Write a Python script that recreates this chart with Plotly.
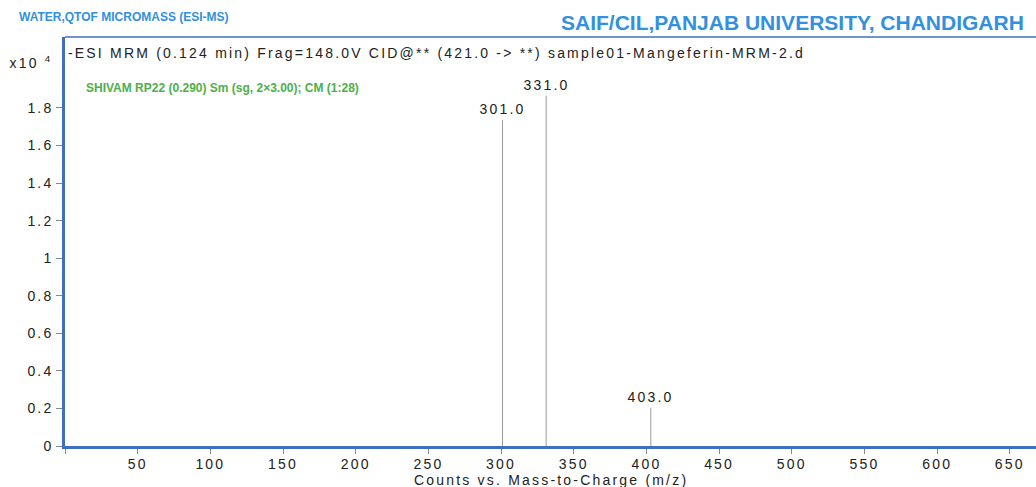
import plotly.graph_objects as go

# Product-ion spectrum peaks (m/z, counts)
peak_mz = [301.0, 331.0, 403.0]
peak_counts = [17350, 18650, 2030]

# Axis ticks
x_ticks = [0, 50, 100, 150, 200, 250, 300, 350, 400, 450, 500, 550, 600, 650]
x_tick_text = ["", "50", "100", "150", "200", "250", "300", "350", "400", "450", "500", "550", "600", "650"]
y_ticks = [0, 2000, 4000, 6000, 8000, 10000, 12000, 14000, 16000, 18000]
y_tick_text = ["0", "0.2", "0.4", "0.6", "0.8", "1", "1.2", "1.4", "1.6", "1.8"]

BLUE_AXIS = "#3F6FC2"
BLUE_HEAD = "#3290DF"
GREEN = "#4DAF4A"
TEXT = "#222222"
FONT = "Liberation Sans, Arial, sans-serif"

# stick spectrum: one vertical segment per peak
xs, ys = [], []
for mz, c in zip(peak_mz, peak_counts):
    xs += [mz, mz, None]
    ys += [0, c, None]

fig = go.Figure()
fig.add_trace(go.Scatter(x=xs, y=ys, mode="lines",
                         line=dict(color="#9a9a9a", width=1),
                         hoverinfo="skip", showlegend=False))

annotations = []
for mz, c in zip(peak_mz, peak_counts):
    annotations.append(dict(x=mz, y=c, xref="x", yref="y", text=f"{mz:.1f}",
                            showarrow=False, yanchor="bottom", yshift=1,
                            font=dict(family=FONT, size=14, color=TEXT)))

PLOT_L, PLOT_W = 65.0, 971.0  # plot area left edge and width in px
H_PLOT = 409.0                # plot area height in px


def px(pix):
    return (pix - PLOT_L) / PLOT_W


def py(pix):
    return (446 - pix) / H_PLOT


# tracked (letter-spaced) texts are centred so the extra spacing grows evenly
annotations += [
    dict(xref="paper", yref="paper", x=px(31), xanchor="center", y=py(62), yanchor="middle",
         text="x10 <sup>4</sup>", showarrow=False, font=dict(family=FONT, size=14, color=TEXT)),
    dict(xref="paper", yref="paper", x=px(436), xanchor="center", y=py(53), yanchor="middle",
         text="-ESI MRM (0.124 min) Frag=148.0V CID@** (421.0 -> **) sample01-Mangeferin-MRM-2.d",
         showarrow=False, font=dict(family=FONT, size=14, color=TEXT)),
    dict(xref="paper", yref="paper", x=0.0195, xanchor="left", y=py(88), yanchor="middle",
         text="SHIVAM RP22 (0.290) Sm (sg, 2×3.00); CM (1:28)",
         showarrow=False, font=dict(family=FONT, size=12, color=GREEN, weight="bold")),
    dict(xref="paper", yref="paper", x=-0.0495, xanchor="left", y=py(17), yanchor="middle",
         text="WATER,QTOF MICROMASS (ESI-MS)",
         showarrow=False, font=dict(family=FONT, size=12, color=BLUE_HEAD, weight="bold")),
    dict(xref="paper", yref="paper", x=px(1026), xanchor="right", y=py(22), yanchor="middle",
         text="SAIF/CIL,PANJAB UNIVERSITY, CHANDIGARH",
         showarrow=False, font=dict(family=FONT, size=21, color=BLUE_HEAD, weight="bold")),
    dict(xref="paper", yref="paper", x=0.5, xanchor="center", y=py(480), yanchor="middle",
         text="Counts vs. Mass-to-Charge (m/z)",
         showarrow=False, font=dict(family=FONT, size=14, color=TEXT)),
]

fig.update_layout(
    width=1036, height=487,
    margin=dict(l=65, r=0, t=37, b=41),
    paper_bgcolor="white", plot_bgcolor="white",
    annotations=annotations,
    shapes=[dict(type="line", xref="paper", yref="paper", x0=0, x1=1, y0=1, y1=1,
                 line=dict(color=BLUE_AXIS, width=1.5))],
    xaxis=dict(range=[0, 668], tickmode="array", tickvals=x_ticks, ticktext=x_tick_text,
               showgrid=False, zeroline=False, showline=True, linecolor=BLUE_AXIS, linewidth=2.5,
               ticks="outside", ticklen=5, tickcolor="#888888", tickwidth=1,
               ticklabelstandoff=-2,
               tickfont=dict(family=FONT, size=14, color=TEXT)),
    yaxis=dict(range=[0, 21780], tickmode="array", tickvals=y_ticks, ticktext=y_tick_text,
               showgrid=False, zeroline=False, showline=True, linecolor=BLUE_AXIS, linewidth=2.5,
               ticks="outside", ticklen=6, tickcolor="#888888", tickwidth=1,
               tickfont=dict(family=FONT, size=14, color=TEXT)),
)

# Widely tracked lettering for the regular-weight labels
post = """
var root = document.getElementById('{plot_id}');
if (root) {
  root.querySelectorAll('text').forEach(function(t){
    var w = t.style.fontWeight || getComputedStyle(t).fontWeight;
    if (!(w === 'bold' || parseInt(w) >= 600)) { t.style.letterSpacing = '2.2px'; }
  });
}
"""

fig.write_html("out.html", post_script=post)
